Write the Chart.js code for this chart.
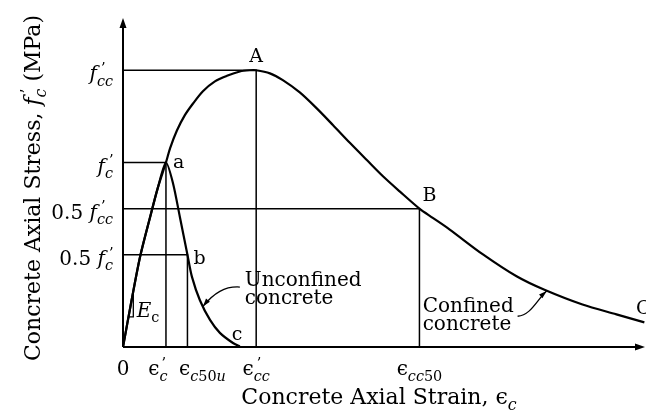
<!DOCTYPE html>
<html>
<head>
<meta charset="utf-8">
<script src="https://cdn.jsdelivr.net/npm/chart.js@4"></script>
<style>
  html, body { margin: 0; background: #fff; }
  #wrap { width: 646px; height: 419px; }
</style>
</head>
<body>
<div id="wrap"><canvas id="stressStrain" width="646" height="419"></canvas></div>
<script>
// Concrete stress-strain: confined vs unconfined
const confinedStrain = [0, 0.0004, 0.00079, 0.00126, 0.00163, 0.002, 0.00219, 0.00251, 0.00288, 0.00326, 0.00372,
  0.00428, 0.00484, 0.00544, 0.0059, 0.0062, 0.00684, 0.00744, 0.00823, 0.00902, 0.00977, 0.01056, 0.01135, 0.01209,
  0.01288, 0.0138, 0.01442, 0.01521, 0.01674, 0.01832, 0.01962, 0.02139, 0.02297, 0.02427];
const confinedStress = [0, 7.6, 14.6, 21.1, 26.0, 30.0, 32.3, 35.2, 37.7, 39.6, 41.6,
  43.2, 44.1, 44.8, 45.0, 45.0, 44.5, 43.4, 41.4, 38.8, 36.1, 33.2, 30.4, 27.8,
  25.3, 22.5, 21.0, 19.1, 15.1, 11.5, 9.3, 6.9, 5.3, 4.0];

const unconfinedStrain = [0, 0.0004, 0.00079, 0.00126, 0.00163, 0.002, 0.00233, 0.00265, 0.003, 0.00321, 0.00358,
  0.00405, 0.00451, 0.00512, 0.00544];
const unconfinedStress = [0, 7.6, 14.6, 21.1, 26.0, 30.0, 26.6, 21.1, 15.0, 11.4, 7.6,
  4.4, 2.3, 0.65, 0.1];

// key points
const strainPeakU = 0.002;    // eps'c
const strain50U = 0.003;      // eps c50u
const strainPeakC = 0.0062;   // eps'cc
const strain50C = 0.0138;     // eps cc50
const fc = 30;                // f'c
const fcc = 45;               // f'cc

const xTicks = [0, strainPeakU, strain50U, strainPeakC, strain50C];
const yTicks = [fcc, fc, fcc / 2, fc / 2];

const FONT = '"DejaVu Serif", serif';
const EPS = '\u03F5';
const PR = '\u2019';

function pts(xs, ys) { return xs.map((x, i) => ({ x: x, y: ys[i] })); }
function guide(x, y) { return [{ x: 0, y: y }, { x: x, y: y }, { x: x, y: 0 }]; }

function rich(ctx, parts, x, y, size, align) {
  let pos = 0, hold = 0;
  const items = [];
  for (const p of parts) {
    const s = (p.sub || p.sup) ? size * 0.72 : size;
    const font = (p.it ? 'italic ' : '') + s + 'px ' + FONT;
    ctx.font = font;
    const w = ctx.measureText(p.t).width;
    items.push({ p: p, font: font, x: pos });
    if (p.stack) hold = Math.max(hold, w);
    else { pos += Math.max(w, hold); hold = 0; }
  }
  const x0 = align === 'center' ? x - pos / 2 : align === 'right' ? x - pos : x;
  ctx.textAlign = 'left';
  ctx.textBaseline = 'alphabetic';
  for (const it of items) {
    ctx.font = it.font;
    const dy = it.p.sub ? size * 0.28 : it.p.sup ? -size * 0.36 : 0;
    ctx.fillText(it.p.t, x0 + it.x + (it.p.dx || 0), y + dy);
  }
}

const xLabels = [
  [{ t: '0' }],
  [{ t: EPS }, { t: PR, sup: true, stack: true, dx: 2 }, { t: 'c', sub: true, it: true }],
  [{ t: EPS }, { t: 'c', sub: true, it: true }, { t: '50', sub: true }, { t: 'u', sub: true, it: true }],
  [{ t: EPS }, { t: PR, sup: true, stack: true, dx: 3 }, { t: 'cc', sub: true, it: true }],
  [{ t: EPS }, { t: 'cc', sub: true, it: true }, { t: '50', sub: true }]
];
const xLabelShift = [0, -8, 15, 0, 0];

const yLabels = [
  [{ t: 'f', it: true }, { t: PR, sup: true, stack: true, dx: 4 }, { t: 'cc', sub: true, it: true }],
  [{ t: 'f', it: true }, { t: PR, sup: true, stack: true, dx: 4 }, { t: 'c', sub: true, it: true }],
  [{ t: '0.5 ' }, { t: 'f', it: true }, { t: PR, sup: true, stack: true, dx: 4 }, { t: 'cc', sub: true, it: true }],
  [{ t: '0.5 ' }, { t: 'f', it: true }, { t: PR, sup: true, stack: true, dx: 4 }, { t: 'c', sub: true, it: true }]
];

const decor = {
  id: 'decor',
  afterDraw(chart) {
    const ctx = chart.ctx;
    const xs = chart.scales.x, ys = chart.scales.y;
    const X = v => xs.getPixelForValue(v);
    const Y = v => ys.getPixelForValue(v);
    const x0 = X(0), y0 = Y(0);
    const area = chart.chartArea;
    ctx.save();
    ctx.strokeStyle = '#000';
    ctx.fillStyle = '#000';

    // axes with arrows
    ctx.lineWidth = 2;
    ctx.beginPath();
    ctx.moveTo(x0, y0); ctx.lineTo(area.right - 4, y0);
    ctx.moveTo(x0, y0); ctx.lineTo(x0, area.top + 4);
    ctx.stroke();
    ctx.beginPath();
    ctx.moveTo(area.right, y0); ctx.lineTo(area.right - 10, y0 - 3.5); ctx.lineTo(area.right - 10, y0 + 3.5); ctx.closePath();
    ctx.moveTo(x0, area.top); ctx.lineTo(x0 - 3.5, area.top + 10); ctx.lineTo(x0 + 3.5, area.top + 10); ctx.closePath();
    ctx.fill();

    // tick labels
    xTicks.forEach((v, i) => rich(ctx, xLabels[i], X(v) + xLabelShift[i], y0 + 28, 20, 'center'));
    yTicks.forEach((v, i) => rich(ctx, yLabels[i], x0 - 10, Y(v) + 10, 20, 'right'));

    // point letters
    const letters = [
      ['A', X(strainPeakC), Y(fcc) - 8, 'center'],
      ['a', X(strainPeakU) + 7, Y(fc) + 5, 'left'],
      ['B', X(strain50C) + 3, Y(fcc / 2) - 8, 'left'],
      ['b', X(strain50U) + 6, Y(fc / 2) + 9, 'left'],
      ['c', X(0.00544) - 8, y0 - 7, 'left'],
      ['C', area.right - 9, Y(5.4), 'left']
    ];
    ctx.font = '19px ' + FONT;
    ctx.textBaseline = 'alphabetic';
    letters.forEach(l => { ctx.textAlign = l[3]; ctx.fillText(l[0], l[1], l[2]); });

    // Ec slope triangle
    ctx.lineWidth = 1.3;
    ctx.beginPath();
    ctx.moveTo(X(0.00026), Y(4.9)); ctx.lineTo(X(0.00048), Y(4.9)); ctx.lineTo(X(0.00048), Y(9.0));
    ctx.stroke();
    rich(ctx, [{ t: 'E', it: true }, { t: 'c', sub: true }], X(0.00064), Y(4.9), 20, 'left');

    // annotations with leaders
    ctx.font = '20px ' + FONT;
    ctx.textAlign = 'left';
    ctx.fillText('Unconfined', X(0.00567), Y(9.9));
    ctx.fillText('concrete', X(0.00567), Y(7.0));
    ctx.fillText('Confined', X(0.01395), Y(5.7));
    ctx.fillText('concrete', X(0.01395), Y(2.8));

    const leader = (a, c1, c2, b) => {
      ctx.lineWidth = 1.3;
      ctx.beginPath();
      ctx.moveTo(X(a[0]), Y(a[1]));
      ctx.bezierCurveTo(X(c1[0]), Y(c1[1]), X(c2[0]), Y(c2[1]), X(b[0]), Y(b[1]));
      ctx.stroke();
      const ang = Math.atan2(Y(b[1]) - Y(c2[1]), X(b[0]) - X(c2[0]));
      const bx = X(b[0]), by = Y(b[1]);
      ctx.beginPath();
      ctx.moveTo(bx, by);
      ctx.lineTo(bx - 8 * Math.cos(ang) + 2.5 * Math.sin(ang), by - 8 * Math.sin(ang) - 2.5 * Math.cos(ang));
      ctx.lineTo(bx - 8 * Math.cos(ang) - 2.5 * Math.sin(ang), by - 8 * Math.sin(ang) + 2.5 * Math.cos(ang));
      ctx.closePath();
      ctx.fill();
    };
    leader([0.00544, 9.75], [0.00474, 9.9], [0.00423, 8.8], [0.00372, 6.6]);
    leader([0.01837, 5.0], [0.019, 5.2], [0.01925, 7.6], [0.01972, 9.1]);

    // axis titles
    rich(ctx, [{ t: 'Concrete Axial Strain, ' }, { t: EPS }, { t: 'c', sub: true, it: true }], 379, 404, 22, 'center');
    ctx.translate(40, 188);
    ctx.rotate(-Math.PI / 2);
    rich(ctx, [{ t: 'Concrete Axial Stress, ' }, { t: 'f', it: true }, { t: PR, sup: true, stack: true, dx: 4 },
      { t: 'c', sub: true, it: true }, { t: ' (MPa)' }], 0, 0, 22, 'center');
    ctx.restore();
  }
};

const lineStyle = { showLine: true, pointRadius: 0, borderColor: '#000', fill: false };

new Chart(document.getElementById('stressStrain'), {
  type: 'scatter',
  data: {
    datasets: [
      Object.assign({ data: pts(confinedStrain, confinedStress), borderWidth: 2.2, tension: 0.3 }, lineStyle),
      Object.assign({ data: pts(unconfinedStrain, unconfinedStress), borderWidth: 2.2, tension: 0.25 }, lineStyle),
      Object.assign({ data: guide(strainPeakC, fcc), borderWidth: 1.5 }, lineStyle),
      Object.assign({ data: guide(strainPeakU, fc), borderWidth: 1.5 }, lineStyle),
      Object.assign({ data: guide(strain50C, fcc / 2), borderWidth: 1.5 }, lineStyle),
      Object.assign({ data: guide(strain50U, fc / 2), borderWidth: 1.5 }, lineStyle)
    ]
  },
  options: {
    responsive: false,
    animation: false,
    layout: { padding: { left: 123, right: 1, top: 18, bottom: 72 } },
    plugins: { legend: { display: false }, tooltip: { enabled: false } },
    scales: {
      x: { type: 'linear', display: false, min: 0, max: 0.0243 },
      y: { type: 'linear', display: false, min: 0, max: 53.5 }
    }
  },
  plugins: [decor]
});
</script>
</body>
</html>
